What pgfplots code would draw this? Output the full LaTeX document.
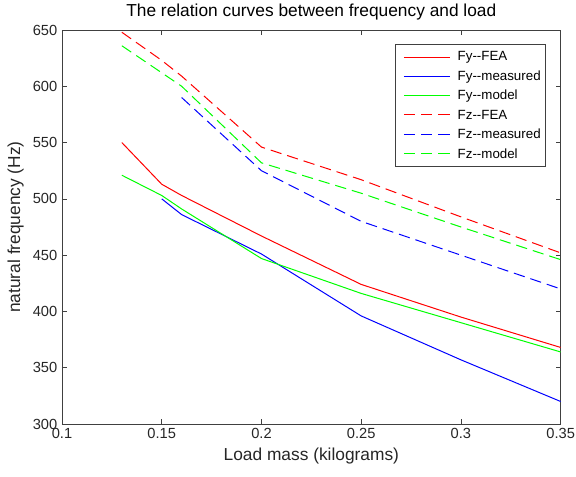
\documentclass[border=0pt]{standalone}
\usepackage{fontspec}
\setmainfont{Liberation Sans}
\usepackage{pgfplots}
\pgfplotsset{compat=1.18}

\definecolor{axgray}{gray}{0.25}
\definecolor{mred}{RGB}{255,0,0}
\definecolor{mblue}{RGB}{0,0,255}
\definecolor{mgreen}{RGB}{0,255,0}

\tikzset{
  fz/.style={dash pattern=on 8.5pt off 4.5pt},
  leg/.style={anchor=west, inner sep=0pt, font=\fontsize{10}{12}\selectfont},
}

\begin{document}
\begin{tikzpicture}
\begin{axis}[
scale only axis,
width=374pt, height=295.5pt,
xmin=0.1, xmax=0.35,
ymin=300, ymax=650,
xtick={0.1,0.15,0.2,0.25,0.3,0.35},
xticklabels={0.1,0.15,0.2,0.25,0.3,0.35},
ytick={300,350,400,450,500,550,600,650},
tick align=inside,
xtick pos=both, ytick pos=both,
major tick length=3.75pt,
axis line style={draw=axgray},
tick style={draw=axgray, line width=0.5pt},
/pgf/number format/assume math mode=true,
tick label style={font=\fontsize{11}{13}\selectfont, text=black!85},
title={The relation curves between frequency and load},
title style={font=\fontsize{13}{15}\selectfont, yshift=-2pt},
xlabel={Load mass (kilograms)},
ylabel={natural frequency (Hz)},
label style={font=\fontsize{13}{15}\selectfont, text=black!85},
every axis plot/.append style={line width=0.75pt},
]

% Fy curves (solid)
\addplot[mred, solid] coordinates {
(0.13,550)(0.15,513)(0.16,503)(0.2,467)(0.25,424)(0.3,395)(0.35,368)};
\addplot[mblue, solid] coordinates {
(0.15,500)(0.16,486)(0.2,451)(0.25,396)(0.3,357)(0.35,320)};
\addplot[mgreen, solid] coordinates {
(0.13,521)(0.15,503)(0.16,491)(0.2,447)(0.25,416)(0.3,390)(0.35,364)};

% Fz curves (dashed)
\addplot[mred, fz] coordinates {
(0.13,648)(0.15,623)(0.16,609)(0.2,546)(0.25,517)(0.3,484)(0.35,452)};
\addplot[mblue, fz] coordinates {
(0.16,590)(0.2,525)(0.25,480)(0.3,450)(0.35,420)};
\addplot[mgreen, fz] coordinates {
(0.13,636)(0.15,612)(0.16,600)(0.2,532)(0.25,505)(0.3,475)(0.35,446)};

% legend
\draw[axgray, fill=white, line width=0.5pt] (rel axis cs:0.669,0.9645) rectangle (rel axis cs:0.970,0.655);
\draw[mred, solid, line width=0.75pt] (rel axis cs:0.6854,0.9307) -- (rel axis cs:0.7776,0.9307);
\draw[mblue, solid, line width=0.75pt] (rel axis cs:0.6854,0.8815) -- (rel axis cs:0.7776,0.8815);
\draw[mgreen, solid, line width=0.75pt] (rel axis cs:0.6854,0.8325) -- (rel axis cs:0.7776,0.8325);
\draw[mred, fz, line width=0.75pt] (rel axis cs:0.6854,0.7843) -- (rel axis cs:0.7776,0.7843);
\draw[mblue, fz, line width=0.75pt] (rel axis cs:0.6854,0.7360) -- (rel axis cs:0.7776,0.7360);
\draw[mgreen, fz, line width=0.75pt] (rel axis cs:0.6854,0.6853) -- (rel axis cs:0.7776,0.6853);
\node[leg] at (rel axis cs:0.7930,0.9307) {Fy-{}-FEA};
\node[leg] at (rel axis cs:0.7930,0.8815) {Fy-{}-measured};
\node[leg] at (rel axis cs:0.7930,0.8325) {Fy-{}-model};
\node[leg] at (rel axis cs:0.7930,0.7843) {Fz-{}-FEA};
\node[leg] at (rel axis cs:0.7930,0.7360) {Fz-{}-measured};
\node[leg] at (rel axis cs:0.7930,0.6853) {Fz-{}-model};

\end{axis}
\pgfresetboundingbox
\path[use as bounding box] (current axis.south west) ++(-46.5pt,-39pt) rectangle ++(432pt,357pt);
\end{tikzpicture}
\end{document}
